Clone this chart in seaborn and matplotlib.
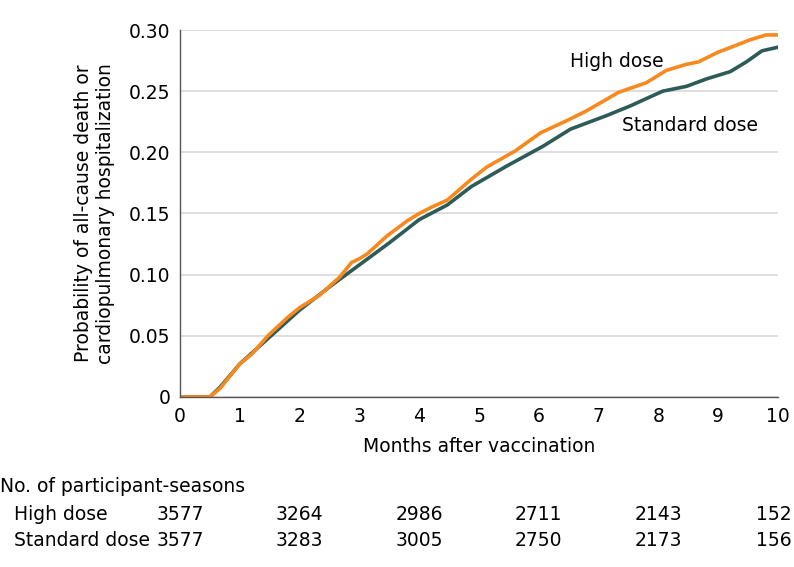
import pandas as pd
import matplotlib.pyplot as plt
import matplotlib.transforms as mtransforms
import seaborn as sns

# cumulative probability
t_high = [0, 0.5, 0.67, 1.0, 1.2, 1.47, 1.8, 2.0, 2.33, 2.67, 2.87, 3.0, 3.13,
          3.47, 3.8, 4.0, 4.2, 4.47, 4.87, 5.13, 5.6, 6.03, 6.47, 6.8, 7.33,
          7.8, 8.13, 8.47, 8.67, 9.0, 9.27, 9.53, 9.8, 10.0]
v_high = [0, 0, 0.007, 0.027, 0.035, 0.050, 0.065, 0.073, 0.083, 0.098, 0.110,
          0.113, 0.117, 0.132, 0.144, 0.150, 0.155, 0.161, 0.178, 0.188, 0.201,
          0.216, 0.226, 0.234, 0.249, 0.257, 0.267, 0.272, 0.274, 0.282, 0.287,
          0.292, 0.296, 0.296]

t_std = [0, 0.5, 0.67, 1.0, 1.5, 2.0, 2.5, 3.0, 3.5, 4.0, 4.47, 4.87, 5.47,
         6.07, 6.53, 7.13, 7.53, 8.07, 8.47, 8.8, 9.2, 9.47, 9.73, 10.0]
v_std = [0, 0, 0.008, 0.027, 0.049, 0.071, 0.090, 0.108, 0.126, 0.145, 0.157,
         0.172, 0.189, 0.205, 0.219, 0.230, 0.238, 0.250, 0.254, 0.260, 0.266,
         0.274, 0.283, 0.286]

# number at risk table
risk_months = [0, 2, 4, 6, 8, 10]
risk_high = ["3577", "3264", "2986", "2711", "2143", "152"]
risk_std = ["3577", "3283", "3005", "2750", "2173", "156"]

df = pd.concat([
    pd.DataFrame({"month": t_std, "prob": v_std, "group": "Standard dose"}),
    pd.DataFrame({"month": t_high, "prob": v_high, "group": "High dose"}),
])

sns.set_style("white")
plt.rcParams["font.family"] = ["DejaVu Sans"]
plt.rcParams["font.size"] = 13.5
for k in ["text.color", "axes.labelcolor", "xtick.color", "ytick.color"]:
    plt.rcParams[k] = "black"

fig = plt.figure(figsize=(7.94, 5.67), dpi=100)
ax = fig.add_axes([0.2267, 0.300, 0.7533, 0.647])

palette = {"Standard dose": "#2d5b57", "High dose": "#f7891f"}
sns.lineplot(data=df, x="month", y="prob", hue="group", palette=palette,
             linewidth=2.6, legend=False, ax=ax, estimator=None, sort=False)

ax.set_xlim(0, 10)
ax.set_ylim(0, 0.30)
ax.set_xticks(range(0, 11))
ax.set_yticks([0, 0.05, 0.10, 0.15, 0.20, 0.25, 0.30])
ax.set_yticklabels(["0", "0.05", "0.10", "0.15", "0.20", "0.25", "0.30"])
ax.yaxis.grid(True, color="#d9d9d9", linewidth=1.2)
ax.set_axisbelow(True)
for s in ["top", "right"]:
    ax.spines[s].set_visible(False)
for s in ["left", "bottom"]:
    ax.spines[s].set_color("#555555")
    ax.spines[s].set_linewidth(1)
ax.tick_params(axis="both", direction="out", length=5, width=1,
               color="#555555", labelcolor="black", labelsize=13.5, pad=2)

ax.set_xlabel("Months after vaccination", fontsize=13.5, labelpad=8)
ax.set_ylabel("Probability of all-cause death or\ncardiopulmonary hospitalization",
              fontsize=13.5, labelpad=10)

ax.text(6.52, 0.274, "High dose", fontsize=13.5, va="center", ha="left")
ax.text(7.39, 0.222, "Standard dose", fontsize=13.5, va="center", ha="left")

# number at risk rows below the axis
trans = mtransforms.blended_transform_factory(ax.transData, fig.transFigure)
fig.text(0.0, 1 - 487 / 567, "No. of participant-seasons", fontsize=13.5,
         va="center", ha="left")
fig.text(14 / 794, 1 - 514 / 567, "High dose", fontsize=13.5, va="center", ha="left")
fig.text(14 / 794, 1 - 540 / 567, "Standard dose", fontsize=13.5, va="center", ha="left")
for m, h, s in zip(risk_months, risk_high, risk_std):
    # last column would run past the right edge, so align it to the right
    ha = "right" if m == risk_months[-1] else "center"
    xm = m + 0.22 if m == risk_months[-1] else m
    ax.text(xm, 1 - 514 / 567, h, transform=trans, fontsize=13.5,
            va="center", ha=ha, clip_on=False)
    ax.text(xm, 1 - 540 / 567, s, transform=trans, fontsize=13.5,
            va="center", ha=ha, clip_on=False)

fig.savefig("out.png", dpi=100)
